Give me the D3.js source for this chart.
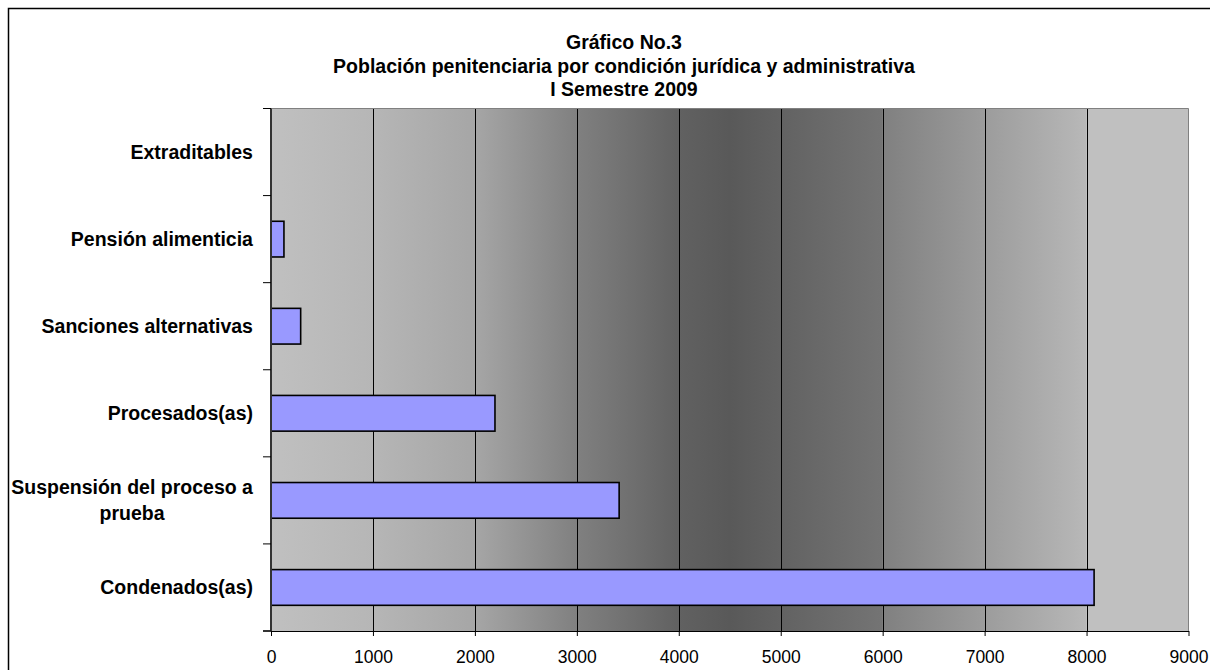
<!DOCTYPE html>
<html><head><meta charset="utf-8">
<script src="https://cdn.jsdelivr.net/npm/d3@7"></script>
<style>body{margin:0;background:#fff;} svg{display:block;font-family:"Liberation Sans",Arial,sans-serif;}</style>
</head><body>
<svg id="c" width="1210" height="670"></svg>
<script>
const categories = ["Extraditables","Pensión alimenticia","Sanciones alternativas","Procesados(as)","Suspensión del proceso a prueba","Condenados(as)"];
const labelLines = [["Extraditables"],["Pensión alimenticia"],["Sanciones alternativas"],["Procesados(as)"],["Suspensión del proceso a","prueba"],["Condenados(as)"]];
const values = [0, 127, 291, 2197, 3415, 8074];
const xTicks = [0,1000,2000,3000,4000,5000,6000,7000,8000,9000];
const titleLines = ["Gráfico No.3","Población penitenciaria por condición jurídica y administrativa","I Semestre 2009"];

const svg = d3.select("#c");
const L=271, R=1188.5, T=108.5, B=631;

// outer border
svg.append("rect").attr("x",8.5).attr("y",8.5).attr("width",1300).attr("height",700)
  .attr("fill","#fff").attr("stroke","#000").attr("stroke-width",1.5);

const x = d3.scaleLinear().domain([0,9000]).range([L,R]);
const y = d3.scaleBand().domain(categories).range([T,B]).padding(0);

// gradient
const defs = svg.append("defs");
const g = defs.append("linearGradient").attr("id","bg").attr("x1","0").attr("x2","1").attr("y1","0").attr("y2","0");
const stops = [[0,"#c0c0c0"],[1/9,"#b6b6b6"],[2/9,"#a6a6a6"],[3/9,"#808080"],[4/9,"#616161"],[0.5,"#595959"],[5/9,"#626262"],[6/9-0.0005,"#747474"],[6/9,"#808080"],[7/9,"#9c9c9c"],[8/9-0.0005,"#b8b8b8"],[8/9,"#c0c0c0"],[1,"#c0c0c0"]];
stops.forEach(s=>g.append("stop").attr("offset",s[0]).attr("stop-color",s[1]));

svg.append("rect").attr("x",L).attr("y",T).attr("width",R-L).attr("height",B-T).attr("fill","url(#bg)");

// gridlines
svg.append("g").selectAll("line").data(xTicks.filter(t=>t>0&&t<9000)).join("line")
  .attr("x1",d=>Math.round(x(d))+0.5).attr("x2",d=>Math.round(x(d))+0.5).attr("y1",T).attr("y2",B)
  .attr("stroke","#000").attr("stroke-width",1);

// plot border top/right
svg.append("line").attr("x1",L).attr("x2",R).attr("y1",T).attr("y2",T).attr("stroke","#808080").attr("stroke-width",1);
svg.append("line").attr("x1",R).attr("x2",R).attr("y1",T).attr("y2",B).attr("stroke","#808080").attr("stroke-width",1);

// bars
const bh = y.bandwidth()*0.41;
svg.append("g").selectAll("rect").data(values).join("rect")
  .attr("x",x(0)).attr("y",(d,i)=>y(categories[i])+y.bandwidth()/2-bh/2)
  .attr("width",d=>x(d)-x(0)).attr("height",bh)
  .attr("fill","#9999ff").attr("stroke","#000").attr("stroke-width",d=>d>0?1.6:0);

// x axis
const xa = svg.append("g").attr("transform",`translate(0,${B})`)
  .call(d3.axisBottom(x).tickValues(xTicks).tickSize(5).tickSizeOuter(0).tickFormat(d3.format("d")));
xa.select(".domain").attr("stroke","#000").attr("stroke-width",1.2);
xa.selectAll(".tick line").attr("stroke","#000");
xa.selectAll(".tick text").attr("font-size","17.5px").attr("font-family","Liberation Sans, Arial, sans-serif").attr("fill","#000").attr("dy",0).attr("y",32);

// extend bottom axis left
svg.append("line").attr("x1",263).attr("x2",L).attr("y1",B).attr("y2",B).attr("stroke","#000").attr("stroke-width",1.2);

// y axis line
svg.append("line").attr("x1",L).attr("x2",L).attr("y1",T).attr("y2",B).attr("stroke","#333").attr("stroke-width",2);
// category ticks at boundaries
const bounds = categories.map(c=>y(c)).concat([B]);
svg.append("g").selectAll("line").data(bounds).join("line")
  .attr("x1",263).attr("x2",L).attr("y1",d=>d).attr("y2",d=>d).attr("stroke","#000").attr("stroke-width",1);

// category labels
const lab = svg.append("g").selectAll("text").data(categories).join("text")
  .attr("font-size","19.5px").attr("font-weight","bold").attr("fill","#000")
  .attr("text-anchor","middle");
lab.each(function(c,i){
  const lines = labelLines[i];
  const t = d3.select(this);
  const cy = y(c)+y.bandwidth()/2;
  lines.forEach((ln,j)=>{
    t.append("tspan").text(ln).attr("x",0).attr("y", cy + (j-(lines.length-1)/2)*25.5).attr("dy","0.35em");
  });
  const w = this.getBBox().width;
  t.selectAll("tspan").attr("x",253-w/2);
});

// title
svg.append("g").selectAll("text").data(titleLines).join("text")
  .attr("x",624).attr("y",(d,i)=>49+i*23.5).attr("text-anchor","middle")
  .attr("font-size","19.5px").attr("font-weight","bold").attr("fill","#000").text(d=>d);
</script>
</body></html>
